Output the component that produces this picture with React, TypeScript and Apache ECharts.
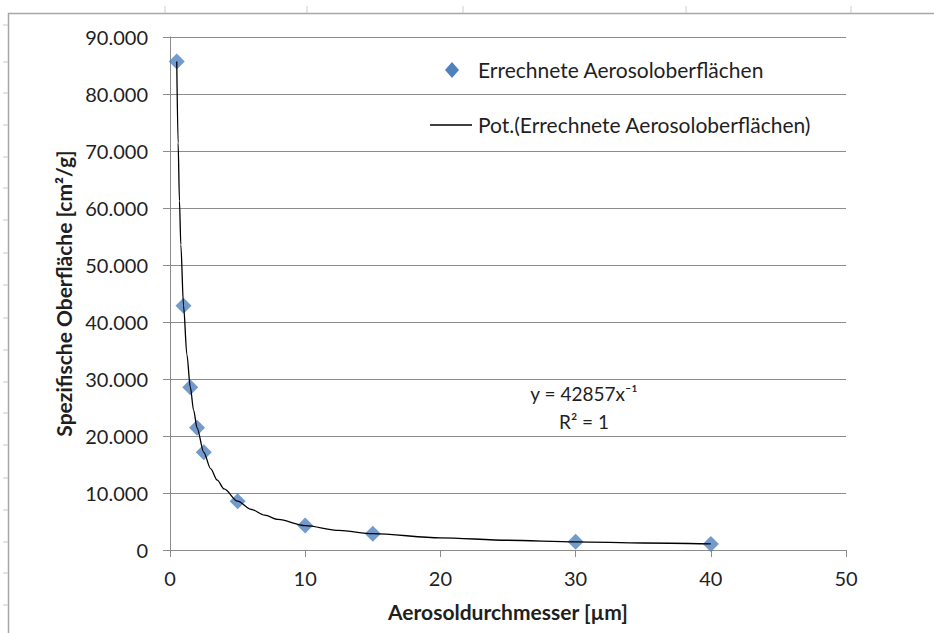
import React, { useEffect, useRef } from "react";
import * as echarts from "echarts";

const seriesName = "Errechnete Aerosoloberflächen";
const trendName = "Pot.(Errechnete Aerosoloberflächen)";
const xAxisName = "Aerosoldurchmesser [µm]";
const yAxisName = "Spezifische Oberfläche [cm²/g]";

const diameters = [0.5, 1, 1.5, 2, 2.5, 5, 10, 15, 30, 40];
const surfaces = [85714, 42857, 28571, 21429, 17143, 8571, 4286, 2857, 1429, 1071];

const trendX = [0.5, 0.6, 0.7, 0.8, 1, 1.25, 1.5, 1.75, 2, 2.5, 3, 3.5, 4, 5, 6, 7, 8, 10, 12.5, 15, 20, 25, 30, 35, 40];
const trendY = [85714, 71428, 61224, 53571, 42857, 34286, 28571, 24490, 21429, 17143, 14286, 12245, 10714, 8571, 7143, 6122, 5357, 4286, 3429, 2857, 2143, 1714, 1429, 1224, 1071];

const equationLines = ["y = 42857x⁻¹", "R² = 1"];

const FONT = "Lato, 'Open Sans', sans-serif";
const GRAY = "#8c8c8c";
const BLUE = "#4f81bd";
const TEXT = "#1f1f1f";

export default function App() {
  const ref = useRef<HTMLDivElement>(null);
  useEffect(() => {
    if (!ref.current) return;
    const chart = echarts.init(ref.current, undefined, { renderer: "svg" });
    const topTicks = [165, 307, 463, 686, 851];
    const leftTicks = [25, 62, 93, 125, 157, 188, 220, 253, 285, 318, 350, 382, 413, 445, 478, 510, 542, 573, 605];
    const graphics: any[] = [
      {
        type: "rect",
        shape: { x: 8.5, y: 13.5, width: 1000, height: 700 },
        style: { fill: "none", stroke: "#a6a6a6", lineWidth: 1.5 },
        silent: true,
      },
      ...topTicks.map((x) => ({
        type: "line",
        shape: { x1: x, y1: 6, x2: x, y2: 13 },
        style: { stroke: "#d0d0d0", lineWidth: 1 },
        silent: true,
      })),
      ...leftTicks.map((y) => ({
        type: "line",
        shape: { x1: 3, y1: y, x2: 8, y2: y },
        style: { stroke: "#c8c8c8", lineWidth: 1 },
        silent: true,
      })),
      {
        type: "polygon",
        shape: { points: [[452, 62], [459, 70], [452, 78], [445, 70]] },
        style: { fill: BLUE },
      },
      {
        type: "text",
        x: 478,
        y: 69,
        style: { text: seriesName, font: `21px ${FONT}`, fill: TEXT, verticalAlign: "middle", align: "left" },
      },
      {
        type: "line",
        shape: { x1: 430, y1: 125, x2: 472, y2: 125 },
        style: { stroke: "#000", lineWidth: 1.3 },
      },
      {
        type: "text",
        x: 478,
        y: 124,
        style: { text: trendName, font: `21px ${FONT}`, fill: TEXT, verticalAlign: "middle", align: "left" },
      },
      {
        type: "text",
        x: 584,
        y: 393,
        style: { text: equationLines[0], font: `19px ${FONT}`, fill: TEXT, verticalAlign: "middle", align: "center" },
      },
      {
        type: "text",
        x: 584,
        y: 421,
        style: { text: equationLines[1], font: `19px ${FONT}`, fill: TEXT, verticalAlign: "middle", align: "center" },
      },
    ];
    chart.setOption({
      animation: false,
      backgroundColor: "#ffffff",
      grid: { left: 170, right: 88, top: 37, bottom: 83, containLabel: false },
      xAxis: {
        type: "value",
        min: 0,
        max: 50,
        interval: 10,
        name: xAxisName,
        nameLocation: "middle",
        nameGap: 51,
        nameTextStyle: { fontFamily: FONT, fontSize: 21, fontWeight: "bold", color: TEXT },
        axisLine: { show: true, onZero: false, lineStyle: { color: GRAY, width: 1 } },
        axisTick: { show: true, inside: false, length: 7, lineStyle: { color: GRAY } },
        axisLabel: { margin: 18, fontFamily: FONT, fontSize: 20, color: TEXT },
        splitLine: { show: false },
      },
      yAxis: {
        type: "value",
        min: 0,
        max: 90000,
        interval: 10000,
        name: yAxisName,
        nameLocation: "middle",
        nameRotate: 90,
        nameGap: 86,
        nameTextStyle: { fontFamily: FONT, fontSize: 21, fontWeight: "bold", color: TEXT },
        axisLine: { show: true, lineStyle: { color: GRAY, width: 1 } },
        axisTick: { show: true, inside: false, length: 7, lineStyle: { color: GRAY } },
        axisLabel: {
          margin: 22,
          fontFamily: FONT,
          fontSize: 20,
          color: TEXT,
          formatter: (v: number) => (v === 0 ? "0" : v.toLocaleString("de-DE")),
        },
        splitLine: { show: true, lineStyle: { color: GRAY, width: 1 } },
      },
      series: [
        {
          name: seriesName,
          type: "scatter",
          symbol: "diamond",
          symbolSize: 16,
          itemStyle: { color: BLUE },
          data: diameters.map((x, i) => [x, surfaces[i]]),
          z: 2,
        },
        {
          name: trendName,
          type: "line",
          showSymbol: false,
          symbol: "none",
          smooth: 0.3,
          smoothMonotone: "x",
          lineStyle: { color: "#000", width: 1.3 },
          data: trendX.map((x, i) => [x, trendY[i]]),
          z: 3,
        },
      ],
      graphic: graphics,
    });
    return () => chart.dispose();
  }, []);
  return <div ref={ref} style={{ position: "fixed", left: 0, top: 0, width: 934, height: 633 }} />;
}
